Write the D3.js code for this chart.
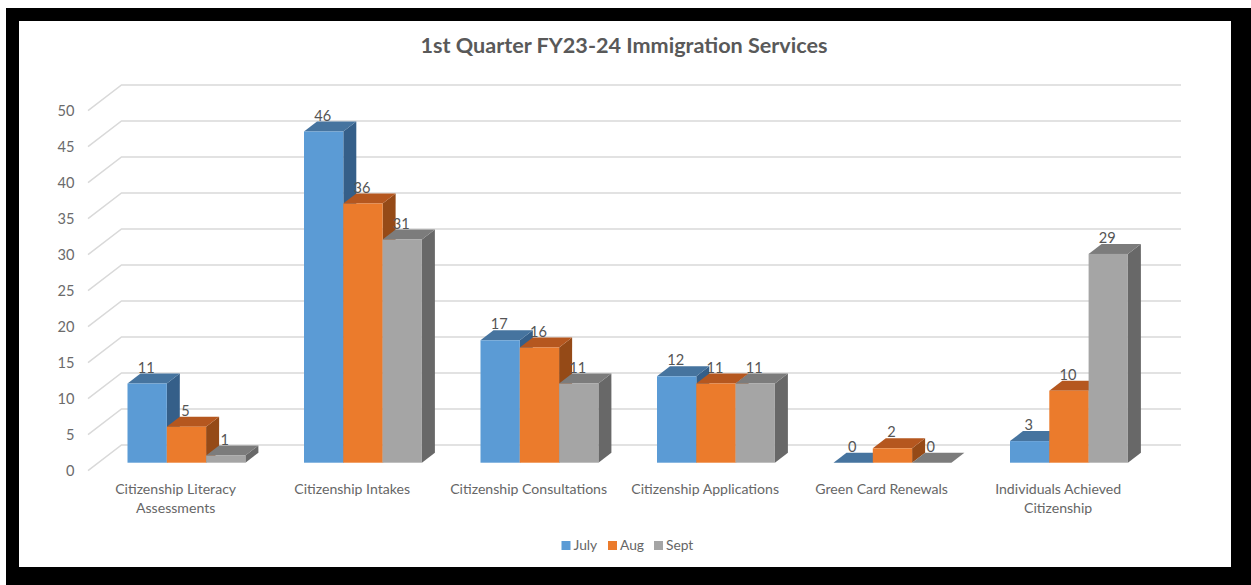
<!DOCTYPE html>
<html><head><meta charset="utf-8">
<script src="https://cdn.jsdelivr.net/npm/d3@7"></script>
<style>html,body{margin:0;padding:0;background:#fff;overflow:hidden}svg{display:block}text{font-family:Lato,"Open Sans",sans-serif}</style>
</head><body><svg id="c" width="1251" height="585"></svg>
<script>
const categories=[["Citizenship Literacy","Assessments"],["Citizenship Intakes"],["Citizenship Consultations"],["Citizenship Applications"],["Green Card Renewals"],["Individuals Achieved","Citizenship"]];
const july=[11,46,17,12,0,3];
const aug=[5,36,16,11,2,10];
const sept=[1,31,11,11,0,29];
const seriesNames=["July","Aug","Sept"];
const yTicks=[0,5,10,15,20,25,30,35,40,45,50];
const title="1st Quarter FY23-24 Immigration Services";
const seriesValues=[july,aug,sept];
const colors=[{f:"#5B9BD5",t:"#46749F",s:"#355F89"},{f:"#EB7B2C",t:"#B5571F",s:"#954A17"},{f:"#A5A5A5",t:"#7C7C7C",s:"#686868"}];

const svg=d3.select("#c");
svg.append("rect").attr("x",6).attr("y",8).attr("width",1245).attr("height",577).attr("fill","#000");
svg.append("rect").attr("x",19).attr("y",21).attr("width",1212).attr("height",546).attr("fill","#fff");

const y=d3.scaleLinear().domain([0,50]).range([445,85]);      // back wall
const depth={x:33.5,y:25.7};
const barDepth={x:13,y:10};
const yFront=d3.scaleLinear().domain([0,50]).range([462.7,102.7]);
const x0=d3.scaleBand().domain(d3.range(categories.length)).range([98.2,1157.2]);
const barW=39.3;
const catOffset=x0.bandwidth()/2;
const g=svg.append("g");

// back wall gridlines + floor diagonals
yTicks.forEach(v=>{
  g.append("path").attr("fill","none").attr("stroke","#D9D9D9").attr("stroke-width",1.5)
   .attr("d",d3.line()([[121.5-depth.x,y(v)+depth.y],[121.5,y(v)],[1181,y(v)]]));
  g.append("text").attr("x",74.5).attr("y",y(v)+depth.y+5.3).attr("text-anchor","end")
   .attr("font-size",14.6).attr("fill","#6b6b6b").text(v);
});

// bars
categories.forEach((c,i)=>{
  const cx=x0(i)+catOffset;
  seriesValues.forEach((vals,k)=>{
    const v=vals[i],L=cx+(k-1.5)*barW,R=L+barW,T=yFront(v),B=yFront(0),col=colors[k];
    const d=barDepth;
    g.append("path").attr("fill",col.s).attr("d",d3.line()([[R,T],[R+d.x,T-d.y],[R+d.x,B-d.y],[R,B]])+"Z");
    g.append("path").attr("fill",col.t).attr("d",d3.line()([[L,T],[L+d.x,T-d.y],[R+d.x,T-d.y],[R,T]])+"Z");
    g.append("rect").attr("x",L).attr("y",T).attr("width",barW).attr("height",B-T).attr("fill",col.f);
  });
});
// data labels above everything
categories.forEach((c,i)=>{
  const cx=x0(i)+catOffset;
  seriesValues.forEach((vals,k)=>{
    const v=vals[i],L=cx+(k-1.5)*barW;
    g.append("text").attr("x",L+barW/2-1).attr("y",yFront(v)-11).attr("text-anchor","middle")
     .attr("font-size",14.6).attr("fill","#555").text(v);
  });
  c.forEach((line,j)=>{
    g.append("text").attr("x",cx-10.8).attr("y",494+j*19).attr("text-anchor","middle")
     .attr("font-size",14.1).attr("fill","#666").text(line);
  });
});

svg.append("text").attr("x",624).attr("y",53).attr("text-anchor","middle")
  .attr("font-size",21.6).attr("font-weight",700).attr("fill","#595959").text(title);

const legendX=[561.5,608,654];
seriesNames.forEach((n,k)=>{
  svg.append("rect").attr("x",legendX[k]).attr("y",541).attr("width",9).attr("height",9).attr("fill",colors[k].f);
  svg.append("text").attr("x",legendX[k]+12).attr("y",550).attr("font-size",13.8).attr("fill","#666").text(n);
});
</script></body></html>
